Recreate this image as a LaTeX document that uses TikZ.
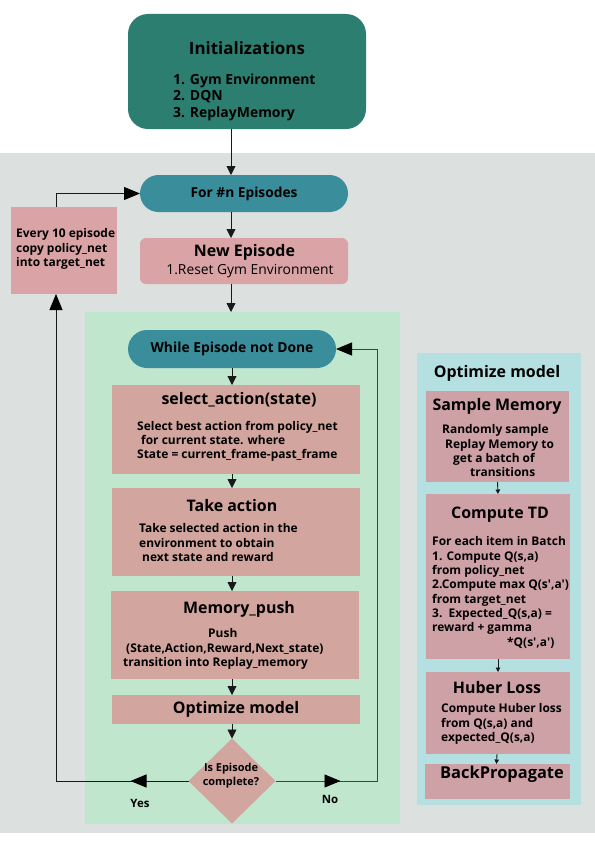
\documentclass[tikz,border=0pt]{standalone}
\usepackage{fontspec}
\setmainfont{Open Sans}
\usetikzlibrary{arrows.meta,shapes.geometric,decorations.markings}
\definecolor{initc}{RGB}{44,126,112}
\definecolor{pillc}{RGB}{58,142,155}
\definecolor{pinkc}{RGB}{218,164,166}
\definecolor{procc}{RGB}{210,165,158}
\definecolor{rboxc}{RGB}{206,161,167}
\definecolor{greenc}{RGB}{192,230,206}
\definecolor{grayc}{RGB}{220,224,223}
\definecolor{cyanc}{RGB}{180,224,226}
\definecolor{linec}{RGB}{25,25,25}
\definecolor{loopc}{RGB}{50,75,62}
\newcommand\fsz[2]{\fontsize{#1}{#2}\selectfont}
\begin{document}
\begin{tikzpicture}[x=1bp,y=-1bp,
  boxnode/.style={draw=none,inner sep=0pt,outer sep=0pt},
  titletext/.style={inner sep=0pt,font=\bfseries\fsz{16}{19}},
  bodytext/.style={inner sep=0pt,anchor=north west,align=left,font=\bfseries\fsz{12}{14.3}},
  conn/.style={draw=linec,line width=0.9bp},
  bigtip/.style={-{Triangle[length=16bp,width=13bp,color=black]}},
  midtip/.style={-{Triangle[length=9bp,width=9bp]}},
  smalltip/.style={-{Triangle[length=4.5bp,width=4.5bp]}},
]
\useasboundingbox (0,0) rectangle (595,842);
\fill[white] (0,0) rectangle (595,842);
\fill[grayc] (0,153) rectangle (595,833);
\fill[greenc] (85,312) rectangle (400,824);
\fill[cyanc] (417,353) rectangle (581,805);

% top
\node[boxnode,fill=initc,rounded corners=20bp,minimum width=238bp,minimum height=115bp] (init) at (247,71.5) {};
\node[inner sep=0pt,font=\bfseries\fsz{17}{20}] (inittitle) at (247,48) {Initializations};
\node[bodytext,font=\bfseries\fsz{14}{16.5}] (inititems) at (173,73.6) {1. Gym Environment\\2. DQN\\3. ReplayMemory};

\node[boxnode,fill=pillc,rounded corners=18.5bp,minimum width=208bp,minimum height=37bp,font=\bfseries\fsz{13.8}{16}] (for) at (244,193.5) {For \#n Episodes};
\node[boxnode,fill=pinkc,rounded corners=6bp,minimum width=208bp,minimum height=46bp] (new) at (244,261) {};
\node[titletext] (newtitle) at (244.5,252) {New Episode};
\node[inner sep=0pt,font=\fsz{13.9}{16}] (newbody) at (250,271) {1.Reset Gym Environment};

\node[boxnode,fill=pinkc,minimum width=106bp,minimum height=87bp] (every) at (64,250.5) {};
\node[bodytext] (everytext) at (16,228.6) {Every 10 episode\\copy policy\_net\\into target\_net};

% middle loop
\node[boxnode,fill=pillc,rounded corners=19bp,minimum width=208bp,minimum height=38bp,font=\bfseries\fsz{13.9}{16}] (while) at (232,349) {While Episode not Done};

\node[boxnode,fill=procc,minimum width=248bp,minimum height=89bp] (sel) at (236,429.5) {};
\node[titletext] (seltitle) at (239,400) {select\_action(state)};
\node[bodytext,font=\bfseries\fsz{12}{14}] (selbody) at (137,421.6) {Select best action from policy\_net\\\hspace*{4bp}for current state. where\\State = current\_frame-past\_frame};

\node[boxnode,fill=procc,minimum width=248bp,minimum height=88bp] (take) at (236,532) {};
\node[titletext] (taketitle) at (232,506) {Take action};
\node[bodytext,font=\bfseries\fsz{12}{14.5}] (takebody) at (139,523.6) {Take selected action in the\\environment to obtain\\\hspace*{3bp}next state and reward};

\node[boxnode,fill=procc,minimum width=248bp,minimum height=88bp] (mem) at (235,635) {};
\node[titletext] (memtitle) at (239,609) {Memory\_push};
\node[bodytext,font=\bfseries\fsz{12}{14.5}] (membody) at (123,628.6) {\hspace*{85bp}Push\\\hspace*{3bp}(State,Action,Reward,Next\_state)\\transition into Replay\_memory};

\node[boxnode,fill=procc,minimum width=248bp,minimum height=29bp,font=\bfseries\fsz{16}{19}] (opt) at (236,709.5) {Optimize model};

\node[boxnode,diamond,fill=procc,minimum width=87bp,minimum height=85bp] (dec) at (232,781) {};
\node[inner sep=0pt,align=center,font=\bfseries\fsz{11}{14}] (dectext) at (231,776) {Is Episode\\complete?};
\node[inner sep=0pt,font=\bfseries\fsz{11.5}{13}] (yes) at (140,803) {Yes};
\node[inner sep=0pt,font=\bfseries\fsz{11.5}{13}] (no) at (330,799) {No};

% right panel
\node[titletext] (rtitle) at (497,373) {Optimize model};
\node[boxnode,fill=rboxc,minimum width=143bp,minimum height=91bp] (samp) at (497.5,436.5) {};
\node[titletext] (samptitle) at (497,406) {Sample Memory};
\node[bodytext] (sampbody) at (442,424.6) {Randomly sample\\\hspace*{3bp}Replay Memory to\\\hspace*{11bp}get a batch of\\\hspace*{28bp}transitions};

\node[boxnode,fill=rboxc,minimum width=144bp,minimum height=165bp] (td) at (498,576.5) {};
\node[titletext] (tdtitle) at (500,515) {Compute TD};
\node[bodytext,font=\bfseries\fsz{12}{14.4}] (tdbody) at (432,536.6) {For each item in Batch\\1. Compute Q(s,a)\\from policy\_net\\2.Compute max Q(s\textquotesingle,a\textquotesingle)\\from target\_net\\3.\ \ Expected\_Q(s,a) =\\reward + gamma\\\hspace*{75bp}*Q(s\textquotesingle,a\textquotesingle)};

\node[boxnode,fill=rboxc,minimum width=144bp,minimum height=82bp] (hub) at (498,713) {};
\node[titletext] (hubtitle) at (497,688) {Huber Loss};
\node[bodytext,font=\bfseries\fsz{12}{14.5}] (hubbody) at (441,703.6) {Compute Huber loss\\from Q(s,a) and\\expected\_Q(s,a)};

\node[boxnode,fill=rboxc,minimum width=145bp,minimum height=35bp] (back) at (497.5,781.5) {};
\node[titletext,font=\bfseries\fsz{16.5}{19}] (backtitle) at (502,774) {BackPropagate};

% connectors
\coordinate (ax) at (231,0);
\coordinate (bx) at (232,0);
\coordinate (greentop) at (231,312);
\draw[conn,midtip] (init.south -| ax) -- (for.north -| ax);
\draw[conn,midtip] (for.south -| ax) -- (new.north -| ax);
\draw[conn,midtip] (new.south -| ax) -- (greentop);
\draw[conn,bigtip] ([xshift=-8bp]every.north) |- (for.west);

\draw[conn,midtip] (while.south -| bx) -- (sel.north -| bx);
\draw[conn,midtip] (sel.south -| bx) -- (take.north -| bx);
\draw[conn,midtip] (take.south -| bx) -- (mem.north -| bx);
\draw[conn,midtip] (mem.south -| bx) -- (opt.north -| bx);
\draw[conn,midtip] (opt.south -| bx) -- (dec.north);

\draw[conn,bigtip,postaction={decorate},decoration={markings,mark=at position 58bp with {\arrow{Triangle[length=16bp,width=13bp,color=black]}}}] (dec.west) -| ([xshift=-8bp]every.south);
\draw[conn,draw=loopc,bigtip,postaction={decorate},decoration={markings,mark=at position 65bp with {\arrow{Triangle[length=16bp,width=13bp,color=black]}}}] (dec.east) -| ([xshift=41bp]while.east) -- (while.east);

\draw[conn,smalltip] (samp.south) -- (td.north);
\draw[conn,smalltip] (td.south) -- (hub.north);
\draw[conn,smalltip] ([xshift=-1bp]hub.south) -- ([xshift=-1bp]back.north);
\end{tikzpicture}
\end{document}
